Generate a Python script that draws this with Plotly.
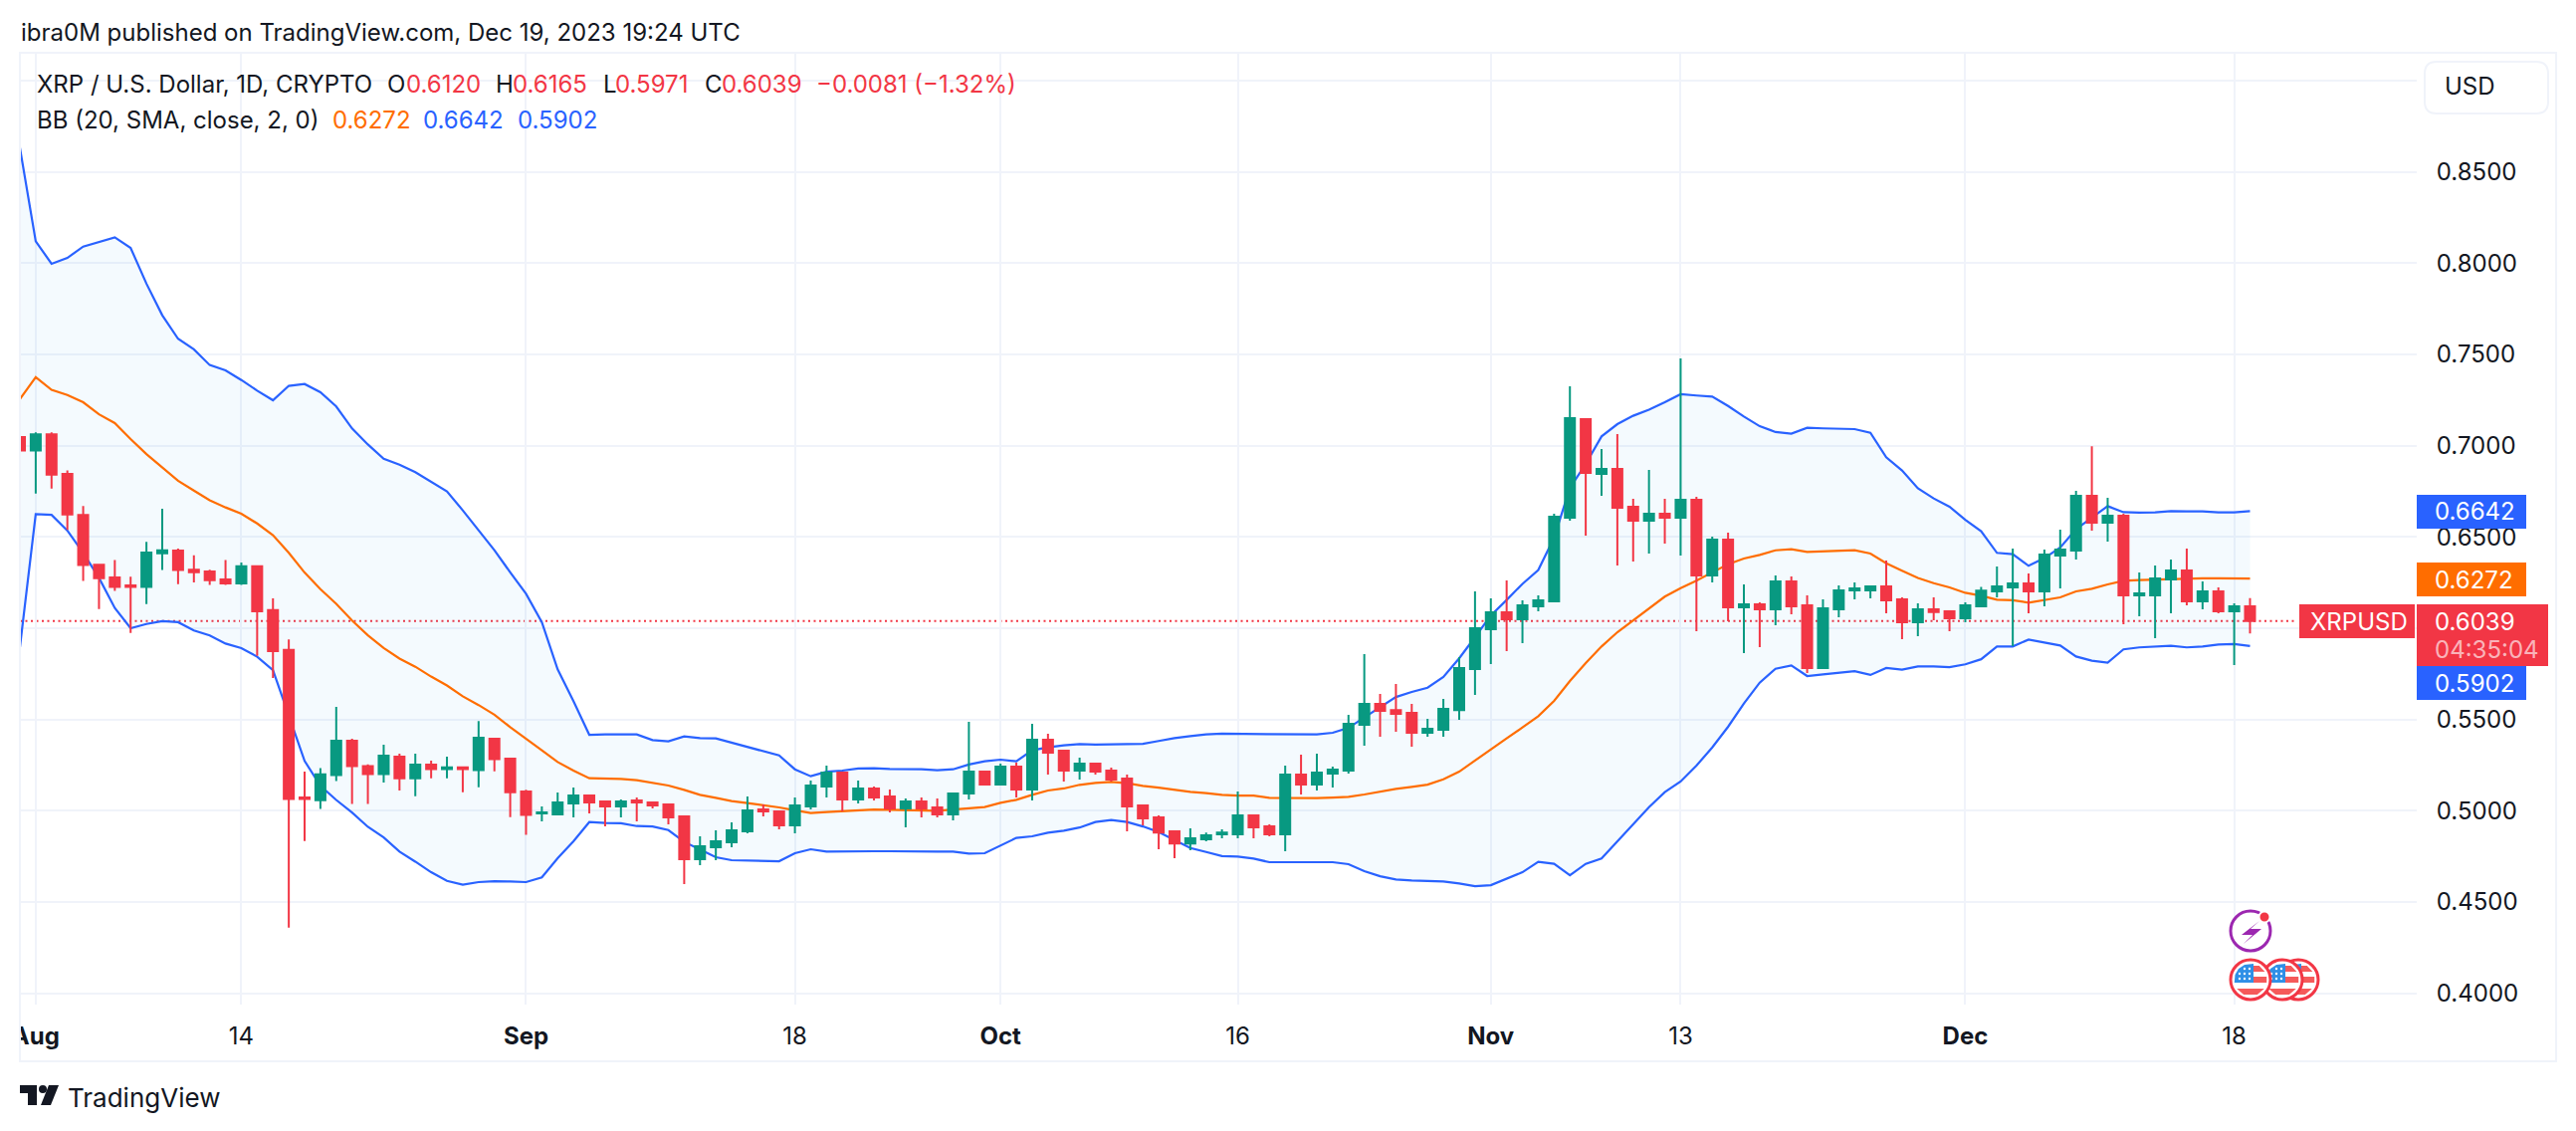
import plotly.graph_objects as go
import pandas as pd

start_date = "2023-07-31"
period_count = 142

opens = [0.7048,
 0.6974,0.7063,0.6845,0.6621,0.6348,0.6278,0.6235,0.6226,0.6411,0.6426,0.6321,0.6311,0.6267,0.6245,0.6339,0.6099,
 0.5881,0.5072,0.5057,0.5195,0.5384,0.5244,0.5201,0.5296,0.5177,0.5253,0.5228,0.5238,0.5222,0.5394,0.5285,
 0.5105,0.4985,0.4980,0.5040,0.5083,0.5051,0.5024,0.5056,0.5045,0.5034,0.4969,0.4734,0.4800,0.4827,0.4887,
 0.5007,0.4996,0.4920,0.5024,0.5133,0.5209,0.5062,0.5122,0.5078,0.5013,0.5051,0.5018,0.4980,0.5094,0.5214,
 0.5144,0.5242,0.5116,0.5389,0.5329,0.5220,0.5258,0.5220,0.5176,0.5029,0.4963,0.4887,0.4821,0.4843,0.4871,
 0.4871,0.4974,0.4914,0.4871,0.5198,0.5143,0.5203,0.5220,0.5471,0.5585,0.5552,0.5536,0.5427,0.5443,0.5552,0.5776,
 0.5994,0.6087,0.6049,0.6120,0.6147,0.6606,0.7146,0.6846,0.6873,0.6665,0.6589,0.6627,0.6606,0.6704,0.6289,
 0.6485,0.6115,0.6131,0.6104,0.6256,0.6125,0.5782,0.6104,0.6207,0.6207,0.6229,0.6158,0.6033,0.6104,0.6093,
 0.6054,0.6120,0.6202,0.6224,0.6245,0.6202,0.6398,0.6425,0.6726,0.6578,0.6616,0.6180,0.6180,0.6267,0.6316,
 0.6147,0.6202,0.6093,0.6120]
highs = [0.7231,
 0.7073,0.7073,0.6865,0.6670,0.6348,0.6374,0.6282,0.6473,0.6654,0.6436,0.6399,0.6321,0.6374,0.6360,0.6339,0.6163,
 0.5939,0.5214,0.5234,0.5569,0.5394,0.5254,0.5362,0.5312,0.5312,0.5275,0.5296,0.5238,0.5491,0.5400,0.5285,
 0.5115,0.5023,0.5100,0.5127,0.5083,0.5051,0.5062,0.5073,0.5045,0.5034,0.4974,0.4860,0.4893,0.4936,0.5078,
 0.5034,0.5002,0.5073,0.5165,0.5247,0.5209,0.5165,0.5133,0.5116,0.5067,0.5073,0.5067,0.5100,0.5487,0.5214,
 0.5258,0.5264,0.5476,0.5422,0.5329,0.5291,0.5258,0.5236,0.5198,0.5029,0.4974,0.4887,0.4903,0.4881,0.4898,
 0.5105,0.4980,0.4925,0.5247,0.5307,0.5312,0.5242,0.5525,0.5858,0.5640,0.5694,0.5585,0.5503,0.5613,0.5842,0.6202,
 0.6164,0.6262,0.6153,0.6180,0.6627,0.7326,0.7151,0.6982,0.7064,0.6709,0.6867,0.6709,0.7478,0.6720,0.6502,
 0.6524,0.6240,0.6142,0.6289,0.6284,0.6180,0.6158,0.6235,0.6251,0.6235,0.6371,0.6169,0.6136,0.6169,0.6098,
 0.6142,0.6227,0.6338,0.6436,0.6300,0.6431,0.6540,0.6753,0.6997,0.6715,0.6627,0.6305,0.6344,0.6376,0.6436,
 0.6256,0.6224,0.6136,0.6165]
lows = [0.6861,
 0.6738,0.6765,0.6539,0.6259,0.6105,0.6204,0.5974,0.6132,0.6319,0.6241,0.6251,0.6237,0.6237,0.6237,0.5848,0.5727,
 0.4359,0.4834,0.5010,0.5162,0.5037,0.5037,0.5154,0.5111,0.5080,0.5177,0.5177,0.5101,0.5129,0.5216,0.4965,
 0.4868,0.4942,0.4974,0.4963,0.4985,0.4914,0.4963,0.4942,0.5013,0.4925,0.4598,0.4702,0.4729,0.4800,0.4876,
 0.4969,0.4898,0.4876,0.5007,0.5073,0.4996,0.5040,0.5056,0.4991,0.4909,0.4963,0.4963,0.4947,0.5062,0.5138,
 0.5138,0.5073,0.5056,0.5198,0.5160,0.5171,0.5198,0.5160,0.4887,0.4920,0.4789,0.4740,0.4783,0.4832,0.4849,
 0.4849,0.4849,0.4860,0.4778,0.5089,0.5111,0.5127,0.5203,0.5356,0.5405,0.5433,0.5351,0.5405,0.5405,0.5498,0.5634,
 0.5804,0.5874,0.5918,0.6093,0.6147,0.6589,0.6507,0.6726,0.6344,0.6365,0.6409,0.6464,0.6398,0.5984,0.6251,
 0.6038,0.5864,0.5896,0.6016,0.6076,0.5754,0.5782,0.6060,0.6158,0.6163,0.6082,0.5940,0.5956,0.6044,0.5984,
 0.6033,0.6115,0.6169,0.5902,0.6082,0.6120,0.6218,0.6376,0.6535,0.6475,0.6022,0.6065,0.5945,0.6082,0.6125,
 0.6104,0.6082,0.5798,0.5971]
closes = [0.6974,
 0.7063,0.6841,0.6623,0.6346,0.6274,0.6226,0.6226,0.6415,0.6427,0.6319,0.6307,0.6263,0.6245,0.6339,0.6093,0.5875,
 0.5064,0.5064,0.5199,0.5384,0.5244,0.5201,0.5302,0.5177,0.5253,0.5228,0.5238,0.5228,0.5400,0.5283,0.5101,
 0.4977,0.4991,0.5045,0.5083,0.5045,0.5024,0.5051,0.5045,0.5029,0.4963,0.4734,0.4805,0.4832,0.4893,0.5002,
 0.4996,0.4920,0.5029,0.5138,0.5209,0.5062,0.5122,0.5073,0.5013,0.5051,0.5013,0.4980,0.5094,0.5214,0.5144,
 0.5242,0.5116,0.5389,0.5318,0.5220,0.5258,0.5214,0.5171,0.5023,0.4958,0.4881,0.4821,0.4849,0.4865,0.4881,
 0.4974,0.4909,0.4871,0.5198,0.5143,0.5209,0.5225,0.5476,0.5585,0.5547,0.5531,0.5427,0.5449,0.5558,0.5782,0.6000,
 0.6087,0.6049,0.6126,0.6153,0.6611,0.7151,0.6851,0.6873,0.6660,0.6589,0.6627,0.6606,0.6704,0.6289,0.6485,
 0.6115,0.6131,0.6104,0.6256,0.6120,0.5782,0.6109,0.6207,0.6218,0.6229,0.6153,0.6033,0.6104,0.6088,0.6054,
 0.6126,0.6206,0.6229,0.6245,0.6202,0.6404,0.6431,0.6726,0.6578,0.6616,0.6180,0.6191,0.6273,0.6316,0.6147,
 0.6202,0.6093,0.6120,0.6039]

bb_upper = [0.8633,
 0.8120,0.7997,0.8029,0.8091,0.8115,0.8142,0.8084,0.7888,0.7715,0.7586,0.7528,0.7442,0.7413,0.7360,0.7302,0.7249,
 0.7328,0.7338,0.7293,0.7215,0.7095,0.7007,0.6929,0.6896,0.6855,0.6802,0.6750,0.6646,0.6535,0.6428,0.6306,
 0.6189,0.6033,0.5775,0.5600,0.5416,0.5418,0.5418,0.5418,0.5387,0.5380,0.5407,0.5398,0.5396,0.5373,0.5347,
 0.5327,0.5303,0.5227,0.5189,0.5214,0.5220,0.5231,0.5233,0.5229,0.5229,0.5227,0.5222,0.5227,0.5253,0.5271,
 0.5280,0.5271,0.5331,0.5347,0.5358,0.5365,0.5362,0.5363,0.5367,0.5367,0.5382,0.5398,0.5409,0.5418,0.5422,
 0.5422,0.5422,0.5422,0.5422,0.5422,0.5418,0.5427,0.5454,0.5511,0.5569,0.5623,0.5651,0.5674,0.5733,0.5835,0.5951,
 0.6070,0.6155,0.6243,0.6319,0.6496,0.6769,0.6900,0.7051,0.7118,0.7164,0.7197,0.7238,0.7282,0.7275,0.7269,
 0.7218,0.7160,0.7107,0.7075,0.7066,0.7098,0.7095,0.7093,0.7091,0.7071,0.6937,0.6864,0.6767,0.6711,0.6666,
 0.6594,0.6531,0.6413,0.6406,0.6342,0.6384,0.6442,0.6542,0.6606,0.6669,0.6636,0.6633,0.6635,0.6642,0.6640,
 0.6640,0.6635,0.6635,0.6642]
bb_basis = [0.7255,
 0.7375,0.7306,0.7278,0.7238,0.7172,0.7124,0.7036,0.6954,0.6880,0.6808,0.6754,0.6701,0.6662,0.6627,0.6574,0.6510,
 0.6413,0.6305,0.6214,0.6134,0.6042,0.5961,0.5892,0.5834,0.5789,0.5735,0.5686,0.5627,0.5579,0.5526,0.5458,
 0.5396,0.5331,0.5267,0.5220,0.5178,0.5176,0.5174,0.5167,0.5151,0.5138,0.5114,0.5087,0.5071,0.5053,0.5042,
 0.5031,0.5018,0.5002,0.4987,0.4993,0.4998,0.5003,0.5007,0.5005,0.5002,0.5000,0.5000,0.5007,0.5014,0.5020,
 0.5043,0.5060,0.5087,0.5111,0.5122,0.5142,0.5152,0.5158,0.5151,0.5136,0.5127,0.5114,0.5103,0.5096,0.5087,
 0.5083,0.5083,0.5071,0.5069,0.5069,0.5069,0.5072,0.5076,0.5089,0.5105,0.5120,0.5131,0.5143,0.5172,0.5214,0.5275,
 0.5338,0.5396,0.5456,0.5518,0.5602,0.5711,0.5809,0.5900,0.5978,0.6042,0.6109,0.6173,0.6220,0.6260,0.6306,
 0.6350,0.6382,0.6402,0.6427,0.6433,0.6418,0.6420,0.6424,0.6427,0.6409,0.6356,0.6315,0.6275,0.6247,0.6224,
 0.6194,0.6178,0.6156,0.6153,0.6140,0.6155,0.6169,0.6202,0.6216,0.6240,0.6260,0.6264,0.6267,0.6271,0.6271,
 0.6273,0.6273,0.6273,0.6272]
bb_lower = [0.5896,
 0.6625,0.6621,0.6535,0.6413,0.6276,0.6111,0.6000,0.6023,0.6039,0.6033,0.5988,0.5961,0.5916,0.5891,0.5844,0.5770,
 0.5526,0.5273,0.5136,0.5059,0.4990,0.4912,0.4854,0.4776,0.4721,0.4663,0.4616,0.4595,0.4609,0.4614,0.4612,
 0.4609,0.4635,0.4740,0.4833,0.4938,0.4933,0.4931,0.4916,0.4914,0.4894,0.4829,0.4787,0.4745,0.4729,0.4727,
 0.4727,0.4723,0.4767,0.4789,0.4776,0.4778,0.4778,0.4778,0.4778,0.4776,0.4776,0.4776,0.4776,0.4765,0.4767,
 0.4811,0.4851,0.4860,0.4880,0.4891,0.4908,0.4938,0.4949,0.4938,0.4914,0.4883,0.4841,0.4796,0.4774,0.4752,
 0.4749,0.4738,0.4718,0.4718,0.4718,0.4718,0.4718,0.4707,0.4669,0.4641,0.4623,0.4618,0.4614,0.4612,0.4601,0.4587,
 0.4592,0.4627,0.4663,0.4720,0.4709,0.4647,0.4709,0.4738,0.4832,0.4923,0.5020,0.5102,0.5160,0.5247,0.5347,
 0.5460,0.5587,0.5702,0.5778,0.5796,0.5738,0.5747,0.5758,0.5765,0.5744,0.5782,0.5773,0.5791,0.5791,0.5787,
 0.5802,0.5830,0.5900,0.5900,0.5938,0.5920,0.5905,0.5845,0.5822,0.5811,0.5884,0.5895,0.5898,0.5904,0.5895,
 0.5900,0.5911,0.5913,0.5902]

for s in (opens, highs, lows, closes, bb_upper, bb_basis, bb_lower):
    assert len(s) == period_count, len(s)

x_tick_dates = ["2023-08-01","2023-08-14","2023-09-01","2023-09-18","2023-10-01",
                "2023-10-16","2023-11-01","2023-11-13","2023-12-01","2023-12-18"]
x_tick_labels = ["<b>Aug</b>","14","<b>Sep</b>","18","<b>Oct</b>","16","<b>Nov</b>","13","<b>Dec</b>","18"]
y_ticks = [0.40,0.45,0.50,0.55,0.60,0.65,0.70,0.75,0.80,0.85,0.90]
y_tick_labels = ["0.4000","0.4500","0.5000","0.5500","","0.6500","0.7000","0.7500","0.8000","0.8500",""]
last_close = 0.6039

UP, DOWN, BLUE, ORANGE, INK, GRID = "#089981", "#f23645", "#2962ff", "#ff6d00", "#131722", "#f0f3fa"
FONT = "Inter"

dates = pd.date_range(start_date, periods=period_count, freq="D")

# page geometry (browser body margin is 8px)
W, H, BODY = 2572, 1120, 8
ML, MT, PW, PH = 12, 45, 2408, 956
def px(v): return (v - BODY - ML) / PW
def py(v): return 1 - (v - BODY - MT) / PH

shapes, notes = [], []
def rect(x0, y0, x1, y1, fill, line=None, lw=0):
    shapes.append(dict(type="rect", xref="paper", yref="paper", x0=px(x0), x1=px(x1), y0=py(y0), y1=py(y1),
                       fillcolor=fill, line=dict(color=line or fill, width=lw), layer="above"))
def circle(cx, cy, r, fill, line, lw):
    shapes.append(dict(type="circle", xref="paper", yref="paper", x0=px(cx-r), x1=px(cx+r), y0=py(cy+r), y1=py(cy-r),
                       fillcolor=fill, line=dict(color=line, width=lw), layer="above"))
def poly(pts, fill):
    d = "M " + " L ".join(f"{px(a):.5f},{py(b):.5f}" for a, b in pts) + " Z"
    shapes.append(dict(type="path", xref="paper", yref="paper", path=d, fillcolor=fill, line=dict(width=0), layer="above"))
def rounded(x0, y0, x1, y1, r, fill, line, lw=2):
    P = lambda a, b: f"{px(a):.5f},{py(b):.5f}"
    d = (f"M {P(x0+r,y0)} L {P(x1-r,y0)} Q {P(x1,y0)} {P(x1,y0+r)} L {P(x1,y1-r)} Q {P(x1,y1)} {P(x1-r,y1)} "
         f"L {P(x0+r,y1)} Q {P(x0,y1)} {P(x0,y1-r)} L {P(x0,y0+r)} Q {P(x0,y0)} {P(x0+r,y0)} Z")
    shapes.append(dict(type="path", xref="paper", yref="paper", path=d, fillcolor=fill,
                       line=dict(color=line, width=lw), layer="above"))
def text(x, y, s, color=INK, size=24, anchor="left"):
    notes.append(dict(xref="paper", yref="paper", x=px(x), y=py(y), text=s, showarrow=False, xanchor=anchor,
                      yanchor="middle", align="left", borderpad=0, font=dict(family=FONT, size=size, color=color)))

# dotted last price line, under the traces
shapes.append(dict(type="line", xref="paper", yref="y", x0=0, x1=px(2308), y0=last_close, y1=last_close,
                   line=dict(color=DOWN, width=2, dash="2px,3.5px"), layer="between"))

fig = go.Figure()
fig.add_trace(go.Scatter(x=dates, y=bb_upper, mode="lines", line=dict(color=BLUE, width=2.2), hoverinfo="skip"))
fig.add_trace(go.Scatter(x=dates, y=bb_lower, mode="lines", line=dict(color=BLUE, width=2.2), fill="tonexty",
                         fillcolor="rgba(33,150,243,0.05)", hoverinfo="skip"))
fig.add_trace(go.Scatter(x=dates, y=bb_basis, mode="lines", line=dict(color=ORANGE, width=2.2), hoverinfo="skip"))
fig.add_trace(go.Candlestick(x=dates, open=opens, high=highs, low=lows, close=closes, xaxis="x2", yaxis="y2",
                             whiskerwidth=0,
                             increasing=dict(line=dict(color=UP, width=2), fillcolor=UP),
                             decreasing=dict(line=dict(color=DOWN, width=2), fillcolor=DOWN)))

# header and legend
text(20, 32, "ibra0M published on TradingView.com, Dec 19, 2023 19:24 UTC")
text(36, 85, "XRP / U.S. Dollar, 1D, CRYPTO")
for x, s, c in [(388,"O",INK),(407,"0.6120",DOWN),(497,"H",INK),(514,"0.6165",DOWN),(605,"L",INK),(617,"0.5971",DOWN),
                (707,"C",INK),(724,"0.6039",DOWN),(819,"−0.0081 (−1.32%)",DOWN)]:
    text(x, 85, s, c)
text(36, 120, "BB (20, SMA, close, 2, 0)")
text(333, 120, "0.6272", ORANGE); text(424, 120, "0.6642", BLUE); text(519, 120, "0.5902", BLUE)

# clip of the first date label, outer frame
rect(0, 1015, 19.5, 1062, "#ffffff")
shapes.append(dict(type="rect", xref="paper", yref="paper", x0=px(20), x1=px(2568), y0=py(53), y1=py(1066),
                   fillcolor="rgba(0,0,0,0)", line=dict(color=GRID, width=2), layer="above"))

# currency button
rounded(2436, 62, 2560, 114, 12, "#ffffff", GRID)
text(2455, 87, "USD")

# price tags
rect(2428, 497, 2538, 531, BLUE); text(2445, 514, "0.6642", "#ffffff")
rect(2428, 565, 2538, 599, ORANGE); text(2445, 582, "0.6272", "#ffffff")
rect(2428, 669, 2538, 703, BLUE); text(2445, 686, "0.5902", "#ffffff")
rect(2310, 607, 2426, 641, DOWN); text(2320, 624, "XRPUSD", "#ffffff")
rect(2428, 607, 2560, 669, DOWN); text(2445, 624, "0.6039", "#ffffff")
text(2445, 652, "04:35:04", "rgba(255,255,255,0.65)")

# event marks
circle(2261, 935, 20, "#ffffff", "#9c27b0", 3)
poly([(2270,925),(2252,939),(2263,939),(2254,948),(2272,933),(2261,933)], "#9c27b0")
circle(2275, 921, 5.5, DOWN, "#ffffff", 2)
def flag(cx, cy=984):
    circle(cx, cy, 20, "#ffffff", DOWN, 3)
    r = 16.5
    def chord(y0, y1, left=None):
        w0 = (max(r*r - y0*y0, 0))**0.5; w1 = (max(r*r - y1*y1, 0))**0.5
        a0 = -w0 if left is None else max(-w0, left)
        a1 = -w1 if left is None else max(-w1, left)
        poly([(cx+a0,cy+y0),(cx+w0,cy+y0),(cx+w1,cy+y1),(cx+a1,cy+y1)], "#f55a5a")
    chord(-14, -8, 3); chord(-3, 3, 3); chord(9, 15)
    w = (r*r - 3*3)**0.5
    poly([(cx-6,cy-15),(cx+3,cy-16),(cx+3,cy+3),(cx-w,cy+3),(cx-15.5,cy-5),(cx-12,cy-11)], "#2f8fe6")
    for i, dy in enumerate((-11, -6, -1)):
        for dx in (-11, -6, -1) if i else (-6, -1):
            circle(cx+dx, cy+dy, 1.2, "#ffffff", "#ffffff", 0)
flag(2309); flag(2293); flag(2261)

# brand
poly([(20,1090),(37,1090),(37,1110),(28,1110),(28,1098),(20,1098)], INK)
circle(43, 1094, 4, INK, INK, 0)
poly([(49,1090),(59,1090),(51,1110),(41,1110)], INK)
text(67, 1102, "TradingView", size=26)

x_range = ["2023-07-31 00:00", "2023-12-29 13:00"]
y_range = [0.3938, 0.9153]
fig.update_layout(
    width=W, height=H, margin=dict(l=ML, r=W-ML-PW, t=MT, b=H-MT-PH, pad=0, autoexpand=False), showlegend=False,
    paper_bgcolor="#ffffff", plot_bgcolor="#ffffff", boxgap=0.37, boxgroupgap=0,
    font=dict(family=FONT, color=INK, size=24), shapes=shapes, annotations=notes,
    xaxis=dict(type="date", range=x_range, tickmode="array", tickvals=x_tick_dates, ticktext=x_tick_labels,
               showgrid=True, gridcolor=GRID, gridwidth=2, zeroline=False, showline=False,
               ticks="outside", ticklen=10, tickcolor="rgba(0,0,0,0)", tickangle=0,
               tickfont=dict(family=FONT, size=24, color=INK)),
    yaxis=dict(range=y_range, side="right", tickmode="array", tickvals=y_ticks, ticktext=y_tick_labels,
               showgrid=True, gridcolor=GRID, gridwidth=2, zeroline=False, showline=False,
               ticks="outside", ticklen=14, tickcolor="rgba(0,0,0,0)",
               tickfont=dict(family=FONT, size=24, color=INK)),
    xaxis2=dict(type="date", overlaying="x", matches="x", visible=False, rangeslider=dict(visible=False)),
    yaxis2=dict(overlaying="y", matches="y", visible=False, side="right"),
)
fig.write_html("out.html")
